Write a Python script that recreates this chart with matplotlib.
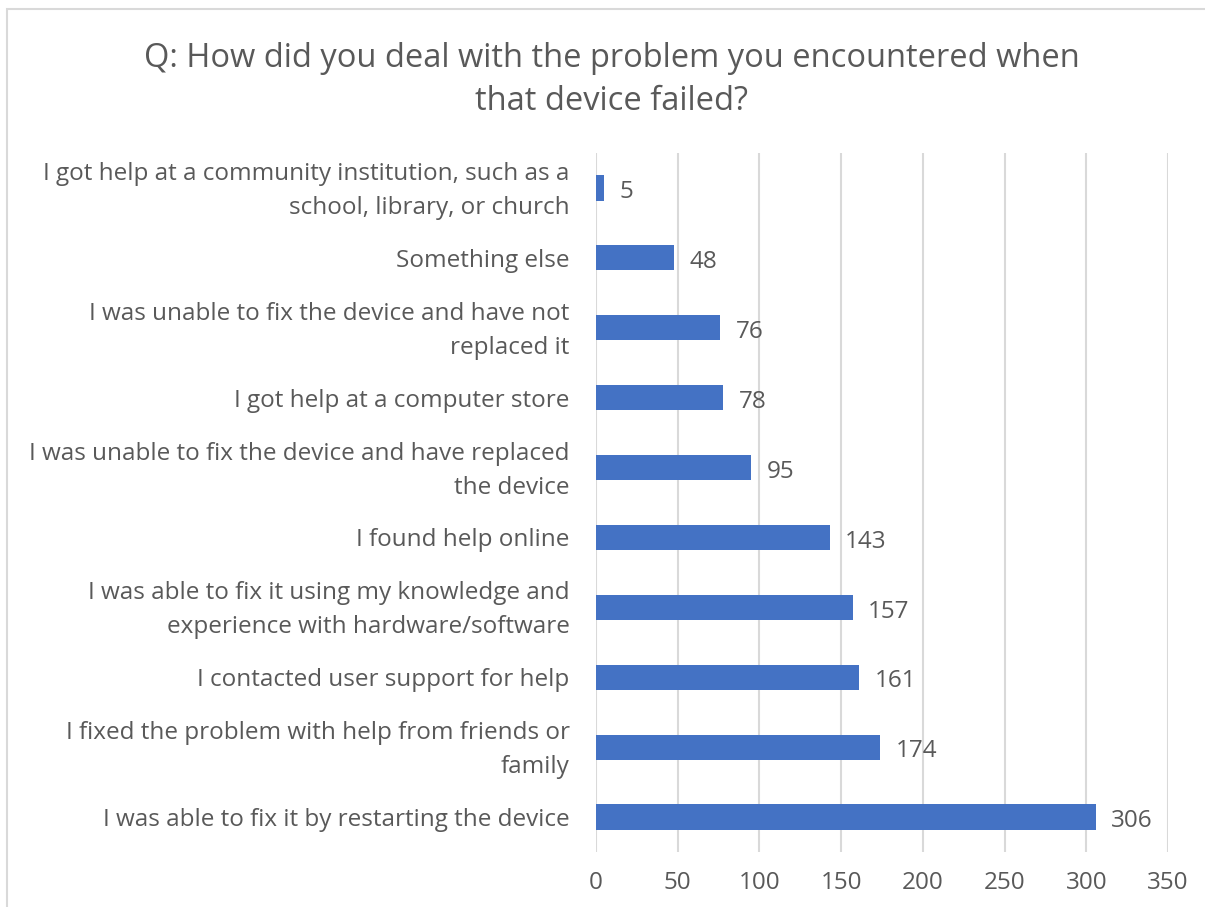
import matplotlib
matplotlib.use("Agg")
import matplotlib.pyplot as plt
import matplotlib.transforms as mtransforms
from matplotlib.patches import Rectangle

categories = [
    "I was able to fix it by restarting the device",
    "I fixed the problem with help from friends or\nfamily",
    "I contacted user support for help",
    "I was able to fix it using my knowledge and\nexperience with hardware/software",
    "I found help online",
    "I was unable to fix the device and have replaced\nthe device",
    "I got help at a computer store",
    "I was unable to fix the device and have not\nreplaced it",
    "Something else",
    "I got help at a community institution, such as a\nschool, library, or church",
]
values = [306, 174, 161, 157, 143, 95, 78, 76, 48, 5]
x_ticks = [0, 50, 100, 150, 200, 250, 300, 350]
title = "Q: How did you deal with the problem you encountered when\nthat device failed?"

W, H = 1205, 907
TEXT = "#595959"
BAR = "#4472C4"
GRID = "#d9d9d9"
FONT = "Open Sans"
FS = 17.5

fig = plt.figure(figsize=(W / 100, H / 100), dpi=100)
fig.patch.set_facecolor("white")

# chart-area border (runs past the right and bottom edges)
fig.patches.append(Rectangle((7 / W, -0.05), 1.2, 1 - 9 / H + 0.05,
                             transform=fig.transFigure, fill=False,
                             edgecolor=GRID, linewidth=1.5))

left, right = 596 / W, 1168 / W
top, bottom = 1 - 153 / H, 1 - 852 / H
ax = fig.add_axes([left, bottom, right - left, top - bottom])

y = list(range(len(categories)))
ax.barh(y, values, height=0.36, color=BAR, zorder=3)
ax.set_ylim(-0.5, len(categories) - 0.5)
ax.set_xlim(0, 350)
ax.set_xticks(x_ticks)
ax.set_xticklabels([str(t) for t in x_ticks], fontsize=FS, color=TEXT, family=FONT)
ax.set_yticks(y)
ax.set_yticklabels(categories, fontsize=FS, color=TEXT, family=FONT,
                   ha="right", va="center", linespacing=1.55)
ax.tick_params(axis="both", length=0)
ax.tick_params(axis="x", pad=14)
ax.tick_params(axis="y", pad=19)
ax.xaxis.grid(True, color=GRID, linewidth=1.5, zorder=0)
for s in ax.spines.values():
    s.set_visible(False)

# nudge category labels slightly down
shift = mtransforms.ScaledTranslation(0, -3 / 100, fig.dpi_scale_trans)
for lbl in ax.get_yticklabels():
    lbl.set_transform(lbl.get_transform() + shift)

for yi, v in zip(y, values):
    ax.annotate(str(v), (v, yi), xytext=(11, -3), textcoords="offset points",
                va="center", ha="left", fontsize=FS, color=TEXT, family=FONT)

fig.text(0.5 * (143 + 1080) / W, 1 - 80 / H, title, ha="center", va="center",
         fontsize=23.5, color=TEXT, family=FONT, linespacing=1.4)

fig.savefig("out.png", dpi=100)
